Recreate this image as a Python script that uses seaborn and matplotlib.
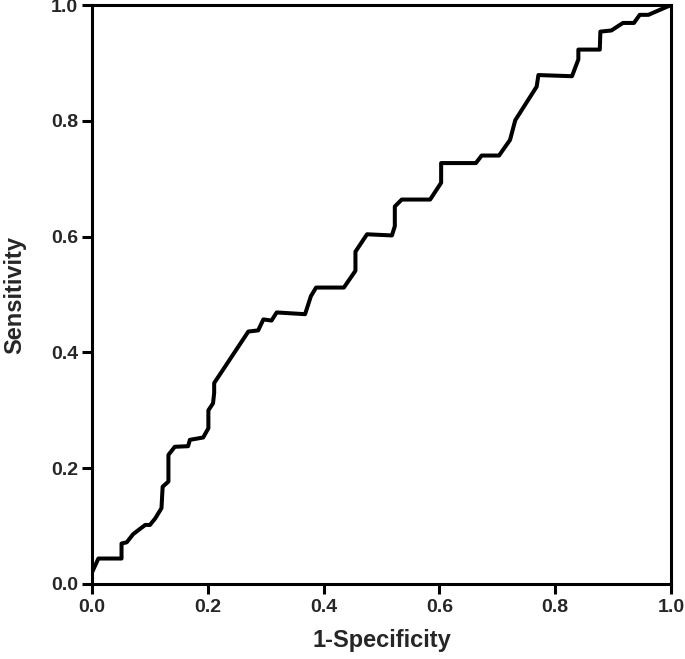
import seaborn as sns
import pandas as pd
import numpy as np
import matplotlib.pyplot as plt

# ROC curve points
fpr = [0.0, 0.0, 0.011, 0.051, 0.051, 0.060, 0.071, 0.080, 0.092, 0.100, 0.109,
       0.120, 0.122, 0.132, 0.132, 0.143, 0.166, 0.169, 0.192, 0.201, 0.201,
       0.209, 0.211, 0.211, 0.270, 0.287, 0.296, 0.310, 0.319, 0.368, 0.378,
       0.387, 0.435, 0.455, 0.455, 0.475, 0.518, 0.523, 0.523, 0.535, 0.584,
       0.603, 0.603, 0.663, 0.673, 0.703, 0.722, 0.731, 0.768, 0.771, 0.829,
       0.840, 0.840, 0.877, 0.878, 0.897, 0.917, 0.936, 0.946, 0.961, 1.0]
tpr = [0.0, 0.020, 0.044, 0.044, 0.070, 0.072, 0.086, 0.093, 0.102, 0.102, 0.113,
       0.131, 0.168, 0.177, 0.223, 0.237, 0.238, 0.249, 0.253, 0.269, 0.300,
       0.312, 0.330, 0.347, 0.436, 0.438, 0.457, 0.455, 0.469, 0.466, 0.497,
       0.512, 0.512, 0.541, 0.574, 0.604, 0.602, 0.618, 0.652, 0.664, 0.664,
       0.693, 0.727, 0.727, 0.740, 0.740, 0.767, 0.801, 0.859, 0.879, 0.877,
       0.906, 0.923, 0.923, 0.954, 0.956, 0.969, 0.969, 0.983, 0.983, 1.0]

ticks = [0.0, 0.2, 0.4, 0.6, 0.8, 1.0]
tick_labels = ["0.0", "0.2", "0.4", "0.6", "0.8", "1.0"]

df = pd.DataFrame({"fpr": fpr, "tpr": tpr})

sns.set_style("white")
plt.rcParams['font.family'] = ['Liberation Sans', 'DejaVu Sans']

fig = plt.figure(figsize=(6.85, 6.59), dpi=100)
ax = fig.add_axes([92 / 685, 75 / 659, 579 / 685, 579 / 659])

sns.lineplot(data=df, x="fpr", y="tpr", ax=ax, color="black", linewidth=2.9,
             sort=False, estimator=None)

ax.set_xlim(0, 1)
ax.set_ylim(0, 1)
ax.set_xticks(ticks)
ax.set_yticks(ticks)
ax.set_xticklabels(tick_labels, fontsize=14, fontweight="bold")
ax.set_yticklabels(tick_labels, fontsize=14, fontweight="bold")
ax.tick_params(axis="x", direction="out", length=7, width=2.2, pad=4,
               bottom=True, top=False, color="black")
ax.tick_params(axis="y", direction="out", length=7, width=2.2, pad=3,
               left=True, right=False, color="black")

for side in ["left", "bottom", "right", "top"]:
    ax.spines[side].set_visible(True)
    ax.spines[side].set_linewidth(2.2)
    ax.spines[side].set_color("black")

ax.set_xlabel("1-Specificity", fontsize=17, fontweight="bold", labelpad=9)
ax.set_ylabel("Sensitivity", fontsize=17, fontweight="bold", labelpad=18)

plt.savefig("out.png", dpi=100)
